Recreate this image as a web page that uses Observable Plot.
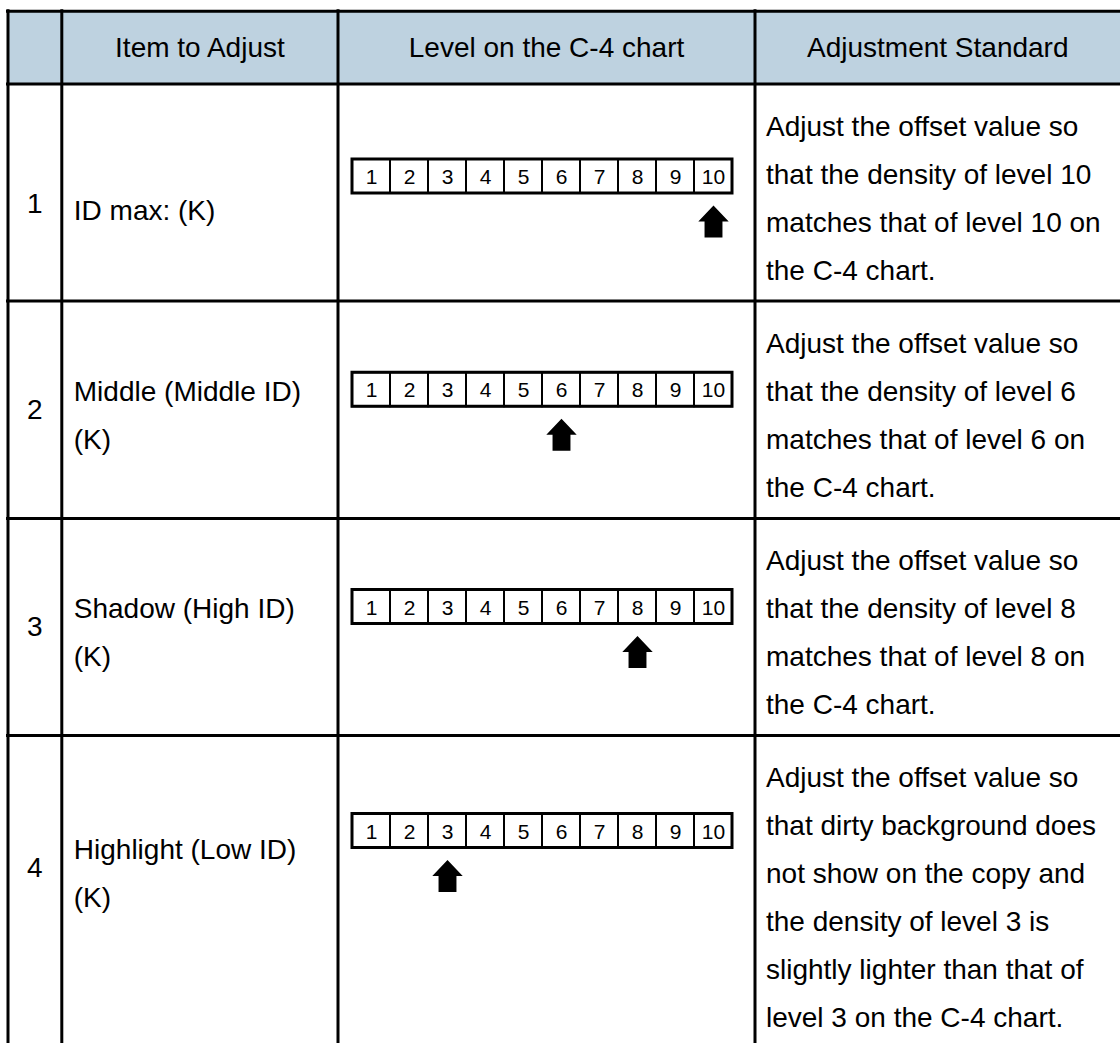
<!DOCTYPE html>
<html>
<head>
<meta charset="utf-8">
<script src="https://cdn.jsdelivr.net/npm/d3@7"></script>
<script src="https://cdn.jsdelivr.net/npm/@observablehq/plot@0.6"></script>
<style>
  html, body { margin: 0; padding: 0; background: #fff; }
  #chart svg { display: block; }
</style>
</head>
<body>
<div id="chart"></div>
<script>
// ---- Content ----
const headers = ["", "Item to Adjust", "Level on the C-4 chart", "Adjustment Standard"];
const rowNumbers = ["1", "2", "3", "4"];
const items = [
  "ID max: (K)",
  "Middle (Middle ID)\n(K)",
  "Shadow (High ID)\n(K)",
  "Highlight (Low ID)\n(K)"
];
const targetLevels = [10, 6, 8, 3];
const levelLabels = ["1", "2", "3", "4", "5", "6", "7", "8", "9", "10"];
const standards = [
  "Adjust the offset value so\nthat the density of level 10\nmatches that of level 10 on\nthe C-4 chart.",
  "Adjust the offset value so\nthat the density of level 6\nmatches that of level 6 on\nthe C-4 chart.",
  "Adjust the offset value so\nthat the density of level 8\nmatches that of level 8 on\nthe C-4 chart.",
  "Adjust the offset value so\nthat dirty background does\nnot show on the copy and\nthe density of level 3 is\nslightly lighter than that of\nlevel 3 on the C-4 chart."
];

// ---- Layout ----
const W = 1120, H = 1043;
const colEdges = [7.5, 61.3, 337.5, 754.5, 1120];
const rowEdges = [10.8, 83.5, 300.5, 518, 735, 1048];
const textShift = [12, 0, 0, -24];          // vertical shift of number / item text
const barOffset = [-16, -20, -20, -61];     // bar centre relative to row centre
const headerFill = "#bed2e0";
const fontFamily = "'Liberation Sans', Arial, Helvetica, sans-serif";
const fontSize = 28;
const lineHeight = 48 / 28;
const barX0 = 352, boxW = 38, boxH = 34;

const rowCenter = i => (rowEdges[i + 1] + rowEdges[i + 2]) / 2;
const colCenter = j => (colEdges[j] + colEdges[j + 1]) / 2;

// derived tables
const headerCells = headers.map((h, j) => ({label: h, x: colCenter(j), y: (rowEdges[0] + rowEdges[1]) / 2}));
const bodyRows = rowNumbers.map((n, i) => ({
  num: n, item: items[i], std: standards[i], level: targetLevels[i],
  cy: rowCenter(i),
  ty: rowCenter(i) + textShift[i],
  barTop: rowCenter(i) + barOffset[i] - boxH / 2
}));
const boxes = bodyRows.flatMap(r => levelLabels.map((lab, k) => ({
  label: lab,
  x1: barX0 + k * boxW, x2: barX0 + (k + 1) * boxW,
  y1: r.barTop, y2: r.barTop + boxH
})));
const arrows = bodyRows.map(r => ({
  x: barX0 + (r.level - 0.5) * boxW,
  y: r.barTop + boxH + 12 + 16
}));

const blockArrow = {
  draw(ctx, size) {
    const r = Math.sqrt(size / Math.PI);
    const hw = r * 0.95, sw = r * 0.56;
    ctx.moveTo(0, -r);
    ctx.lineTo(hw, 0);
    ctx.lineTo(sw, 0);
    ctx.lineTo(sw, r);
    ctx.lineTo(-sw, r);
    ctx.lineTo(-sw, 0);
    ctx.lineTo(-hw, 0);
    ctx.closePath();
  }
};

const chart = Plot.plot({
  width: W,
  height: H,
  margin: 0,
  style: {fontFamily, background: "#fff", color: "#000"},
  x: {type: "linear", domain: [0, W], range: [0, W], axis: null},
  y: {type: "linear", domain: [0, H], range: [0, H], axis: null},
  marks: [
    // header background
    Plot.rect([{x1: colEdges[0], x2: W, y1: rowEdges[0], y2: rowEdges[1]}],
      {x1: "x1", x2: "x2", y1: "y1", y2: "y2", fill: headerFill}),
    // level boxes
    Plot.rect(boxes, {x1: "x1", x2: "x2", y1: "y1", y2: "y2", fill: "#fff", stroke: "#000", strokeWidth: 2}),
    Plot.rect(bodyRows, {
      x1: () => barX0, x2: () => barX0 + 10 * boxW,
      y1: "barTop", y2: d => d.barTop + boxH,
      fill: "none", stroke: "#000", strokeWidth: 3
    }),
    Plot.text(boxes, {
      x: d => (d.x1 + d.x2) / 2, y: d => (d.y1 + d.y2) / 2 + 1,
      text: "label", fontSize: 21, fill: "#000"
    }),
    // arrows
    Plot.dot(arrows, {x: "x", y: "y", r: 16, symbol: blockArrow, fill: "#000", stroke: "none"}),
    // grid lines
    Plot.ruleY(rowEdges.slice(0, 5), {y: d => d, x1: colEdges[0] - 1.5, x2: W, stroke: "#000", strokeWidth: 3}),
    Plot.ruleX(colEdges.slice(0, 4), {x: d => d, y1: rowEdges[0] - 1.5, y2: H, stroke: "#000", strokeWidth: 3}),
    // header texts
    Plot.text(headerCells, {x: "x", y: "y", text: "label", fontSize, fill: "#000"}),
    // row numbers
    Plot.text(bodyRows, {x: () => colCenter(0), y: "ty", text: "num", fontSize, fill: "#000"}),
    // items
    Plot.text(bodyRows, {
      x: () => colEdges[1] + 12, y: "ty", text: "item", fontSize, fill: "#000",
      textAnchor: "start", lineAnchor: "middle", lineHeight
    }),
    // standards
    Plot.text(bodyRows, {
      x: () => colEdges[3] + 11, y: "cy", text: "std", fontSize, fill: "#000",
      textAnchor: "start", lineAnchor: "middle", lineHeight
    })
  ]
});

document.getElementById("chart").appendChild(chart);
</script>
</body>
</html>
